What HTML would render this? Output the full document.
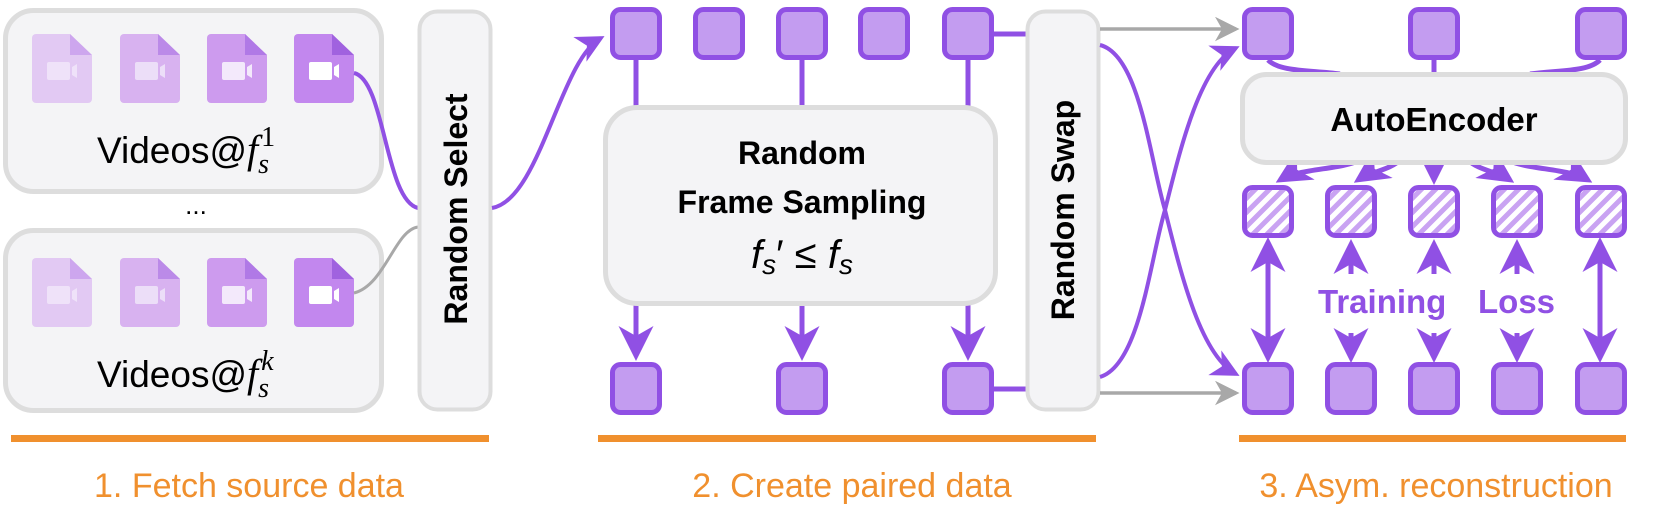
<!DOCTYPE html>
<html><head><meta charset="utf-8"><style>
html,body{margin:0;padding:0;background:#fff;}
svg{display:block;}
text{font-family:"Liberation Sans",sans-serif;}
</style></head><body>
<svg width="1661" height="531" viewBox="0 0 1661 531" xmlns="http://www.w3.org/2000/svg">
<defs>
<pattern id="hatch" patternUnits="userSpaceOnUse" width="10" height="10" patternTransform="rotate(45)">
<rect width="10" height="10" fill="#fff"/><rect width="5" height="10" fill="#c9a3f2"/>
</pattern>
<marker id="ap" markerWidth="7" markerHeight="7" refX="6" refY="3.5" orient="auto" markerUnits="strokeWidth"><path d="M0,0 L7,3.5 L0,7 L2,3.5z" fill="#9050e4"/></marker>
<marker id="ag" markerWidth="7" markerHeight="7" refX="6" refY="3.5" orient="auto" markerUnits="strokeWidth"><path d="M0,0 L7,3.5 L0,7 L2,3.5z" fill="#a8a8a8"/></marker>
<g id="sq"><rect x="2.5" y="2.5" width="47" height="48" rx="8" fill="#c39cf0" stroke="#9050e4" stroke-width="5"/></g>
<g id="hsq"><rect x="2.5" y="2.5" width="47" height="48" rx="8" fill="url(#hatch)" stroke="#9050e4" stroke-width="5"/></g>
</defs>

<rect x="5.5" y="10.5" width="376" height="181" rx="28" fill="#f4f4f6" stroke="#dddddd" stroke-width="5"/>
<rect x="5.5" y="230.5" width="376" height="180" rx="28" fill="#f4f4f6" stroke="#dddddd" stroke-width="5"/>
<g id="icons">
<g transform="translate(32,34)"><path d="M4,0 H38 L60,21 V65 a4,4 0 0 1 -4,4 H4 a4,4 0 0 1 -4,-4 V4 a4,4 0 0 1 4,-4z" fill="#e2c9f3"/><path d="M38,0 L60,21 H38z" fill="#cda6ee"/><rect x="15" y="28" width="23" height="18" rx="2" fill="#efe2f9"/><path d="M40,33 L45,30 V44 L40,41z" fill="#efe2f9"/></g>
<g transform="translate(120,34)"><path d="M4,0 H38 L60,21 V65 a4,4 0 0 1 -4,4 H4 a4,4 0 0 1 -4,-4 V4 a4,4 0 0 1 4,-4z" fill="#d8b2f0"/><path d="M38,0 L60,21 H38z" fill="#bb8ae8"/><rect x="15" y="28" width="23" height="18" rx="2" fill="#ecdef8"/><path d="M40,33 L45,30 V44 L40,41z" fill="#ecdef8"/></g>
<g transform="translate(207,34)"><path d="M4,0 H38 L60,21 V65 a4,4 0 0 1 -4,4 H4 a4,4 0 0 1 -4,-4 V4 a4,4 0 0 1 4,-4z" fill="#cd9bee"/><path d="M38,0 L60,21 H38z" fill="#b079e6"/><rect x="15" y="28" width="23" height="18" rx="2" fill="#f3e9fb"/><path d="M40,33 L45,30 V44 L40,41z" fill="#f3e9fb"/></g>
<g transform="translate(294,34)"><path d="M4,0 H38 L60,21 V65 a4,4 0 0 1 -4,4 H4 a4,4 0 0 1 -4,-4 V4 a4,4 0 0 1 4,-4z" fill="#c287ee"/><path d="M38,0 L60,21 H38z" fill="#a062df"/><rect x="15" y="28" width="23" height="18" rx="2" fill="#ffffff"/><path d="M40,33 L45,30 V44 L40,41z" fill="#ffffff"/></g>
</g>
<use href="#icons" transform="translate(0,224)"/>
<text x="97" y="163" font-size="37" fill="#000">Videos@<tspan font-family="Liberation Serif, serif" font-style="italic" font-size="40">f</tspan><tspan font-family="Liberation Serif, serif" font-style="italic" font-size="28" dy="10">s</tspan><tspan font-family="Liberation Serif, serif" font-size="28" dy="-27" dx="-8">1</tspan></text>
<text x="97" y="387" font-size="37" fill="#000">Videos@<tspan font-family="Liberation Serif, serif" font-style="italic" font-size="40">f</tspan><tspan font-family="Liberation Serif, serif" font-style="italic" font-size="28" dy="10">s</tspan><tspan font-family="Liberation Serif, serif" font-style="italic" font-size="28" dy="-27" dx="-8">k</tspan></text>
<text x="196" y="214" font-size="26" text-anchor="middle" fill="#000">...</text>

<path d="M354,73 C385,80 385,200 418,208" fill="none" stroke="#9050e4" stroke-width="4"/>
<path d="M354,293 C385,285 395,230 418,227" fill="none" stroke="#a8a8a8" stroke-width="3"/>
<rect x="419.5" y="11.5" width="71" height="398" rx="18" fill="#f4f4f6" stroke="#dddddd" stroke-width="4"/>
<text transform="translate(467,209) rotate(-90)" font-size="32" font-weight="bold" text-anchor="middle" fill="#000">Random Select</text>
<path d="M492,208 C540,200 560,60 601,38" fill="none" stroke="#9050e4" stroke-width="4" marker-end="url(#ap)"/>

<g stroke="#9050e4" stroke-width="5" fill="none">
<line x1="636" y1="60" x2="636" y2="108"/><line x1="802" y1="60" x2="802" y2="108"/><line x1="968" y1="60" x2="968" y2="108"/>
<line x1="636" y1="302" x2="636" y2="356" marker-end="url(#ap)"/>
<line x1="802" y1="302" x2="802" y2="356" marker-end="url(#ap)"/>
<line x1="968" y1="302" x2="968" y2="356" marker-end="url(#ap)"/>
<line x1="992" y1="34" x2="1028" y2="34"/>
<line x1="992" y1="389" x2="1028" y2="389"/>
</g>
<use href="#sq" x="610" y="7"/><use href="#sq" x="693" y="7"/><use href="#sq" x="776" y="7"/><use href="#sq" x="858" y="7"/><use href="#sq" x="942" y="7"/>
<use href="#sq" x="610" y="362"/><use href="#sq" x="776" y="362"/><use href="#sq" x="942" y="362"/>
<rect x="605.5" y="107.5" width="390" height="196" rx="32" fill="#f4f4f6" stroke="#dddddd" stroke-width="5"/>
<text x="802" y="164" font-size="32" font-weight="bold" text-anchor="middle" fill="#000">Random</text>
<text x="802" y="213" font-size="32" font-weight="bold" text-anchor="middle" fill="#000">Frame Sampling</text>
<text x="802" y="268" font-size="40" text-anchor="middle" fill="#000" font-family="Liberation Serif, serif"><tspan font-style="italic">f</tspan><tspan font-style="italic" font-size="28" dy="6">s</tspan><tspan dy="-6">′ ≤ </tspan><tspan font-style="italic">f</tspan><tspan font-style="italic" font-size="28" dy="6">s</tspan></text>

<rect x="1027.5" y="11.5" width="71" height="398" rx="18" fill="#f4f4f6" stroke="#dddddd" stroke-width="4"/>
<text transform="translate(1074,210) rotate(-90)" font-size="32" font-weight="bold" text-anchor="middle" fill="#000">Random Swap</text>
<line x1="1100" y1="29" x2="1236" y2="29" stroke="#a8a8a8" stroke-width="3.5" marker-end="url(#ag)"/>
<line x1="1100" y1="393" x2="1236" y2="393" stroke="#a8a8a8" stroke-width="3.5" marker-end="url(#ag)"/>
<path d="M1100,45 C1140,55 1150,160 1165,210 C1180,270 1200,355 1236,374" fill="none" stroke="#9050e4" stroke-width="4" marker-end="url(#ap)"/>
<path d="M1100,377 C1140,365 1150,260 1165,210 C1180,150 1200,65 1236,48" fill="none" stroke="#9050e4" stroke-width="4" marker-end="url(#ap)"/>

<g stroke="#9050e4" stroke-width="5" fill="none">
<path d="M1268,60 C1280,72 1310,70 1340,74"/>
<line x1="1434" y1="60" x2="1434" y2="74"/>
<path d="M1600,60 C1588,72 1560,70 1530,74"/>
<path d="M1360,160 C1340,170 1300,168 1280,180" marker-end="url(#ap)"/>
<path d="M1400,160 C1390,170 1370,172 1358,180" marker-end="url(#ap)"/>
<line x1="1434" y1="162" x2="1434" y2="180" marker-end="url(#ap)"/>
<path d="M1468,160 C1478,170 1498,172 1510,180" marker-end="url(#ap)"/>
<path d="M1508,160 C1528,170 1568,168 1588,180" marker-end="url(#ap)"/>
<line x1="1268" y1="258" x2="1268" y2="242" marker-end="url(#ap)"/>
<line x1="1268" y1="258" x2="1268" y2="358" marker-end="url(#ap)"/>
<line x1="1600" y1="258" x2="1600" y2="242" marker-end="url(#ap)"/>
<line x1="1600" y1="258" x2="1600" y2="358" marker-end="url(#ap)"/>
<line x1="1351" y1="274" x2="1351" y2="244" marker-end="url(#ap)"/>
<line x1="1434" y1="274" x2="1434" y2="244" marker-end="url(#ap)"/>
<line x1="1517" y1="274" x2="1517" y2="244" marker-end="url(#ap)"/>
<line x1="1351" y1="333" x2="1351" y2="358" marker-end="url(#ap)"/>
<line x1="1434" y1="333" x2="1434" y2="358" marker-end="url(#ap)"/>
<line x1="1517" y1="333" x2="1517" y2="358" marker-end="url(#ap)"/>
</g>
<use href="#sq" x="1242" y="7"/><use href="#sq" x="1408" y="7"/><use href="#sq" x="1575" y="7"/>
<rect x="1242.5" y="74.5" width="383" height="88" rx="24" fill="#f4f4f6" stroke="#dddddd" stroke-width="5"/>
<text x="1434" y="131" font-size="33" font-weight="bold" text-anchor="middle" fill="#000">AutoEncoder</text>
<use href="#hsq" x="1242" y="185"/><use href="#hsq" x="1325" y="185"/><use href="#hsq" x="1408" y="185"/><use href="#hsq" x="1491" y="185"/><use href="#hsq" x="1575" y="185"/>
<use href="#sq" x="1242" y="362"/><use href="#sq" x="1325" y="362"/><use href="#sq" x="1408" y="362"/><use href="#sq" x="1491" y="362"/><use href="#sq" x="1575" y="362"/>
<text x="1318" y="313" font-size="33" font-weight="bold" fill="#9050e4">Training</text>
<text x="1478" y="313" font-size="33" font-weight="bold" fill="#9050e4">Loss</text>

<g fill="#f0902e">
<rect x="11" y="435" width="478" height="7"/>
<rect x="598" y="435" width="498" height="7"/>
<rect x="1239" y="435" width="387" height="7"/>
</g>
<g font-size="34" fill="#f0902e" text-anchor="middle">
<text x="249" y="497">1. Fetch source data</text>
<text x="852" y="497">2. Create paired data</text>
<text x="1436" y="497">3. Asym. reconstruction</text>
</g>
</svg>
</body></html>
